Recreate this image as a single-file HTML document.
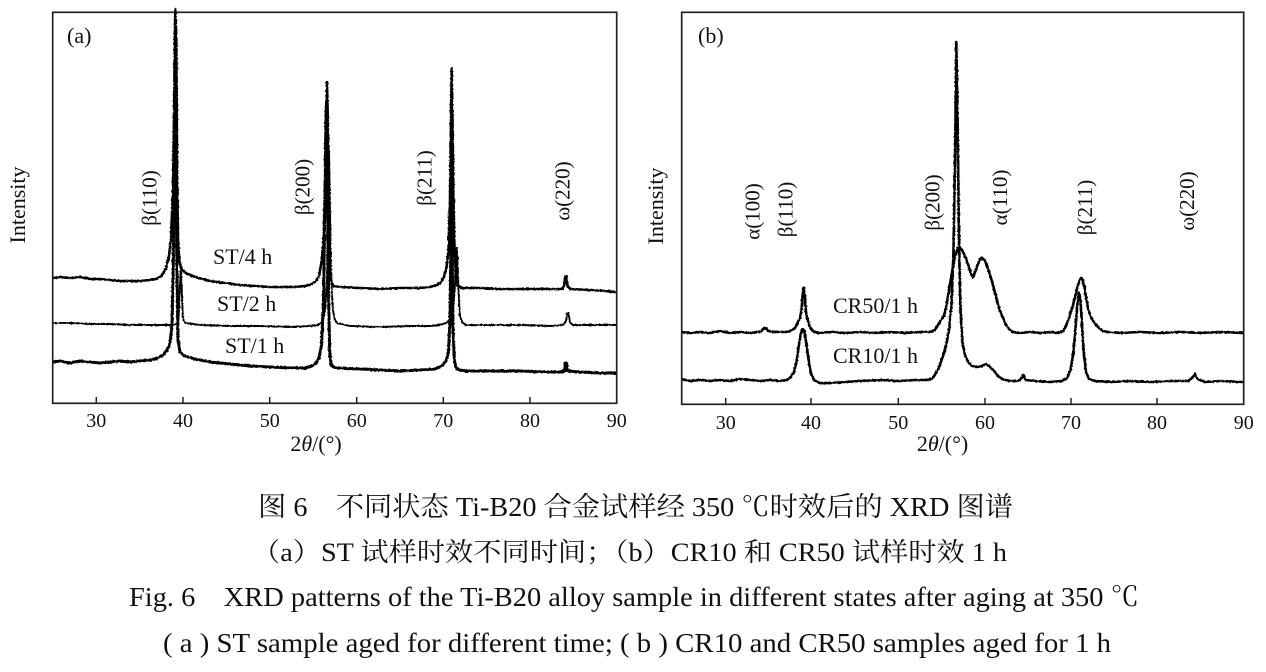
<!DOCTYPE html>
<html>
<head>
<meta charset="utf-8">
<style>
  html,body{margin:0;padding:0;background:#fff;}
  svg{display:block;}
  text{font-family:"Liberation Serif","Noto Serif CJK SC",serif;fill:#111;}
</style>
</head>
<body>
<svg width="1266" height="672" viewBox="0 0 1266 672" xmlns="http://www.w3.org/2000/svg">
  <defs>
    <filter id="nz" filterUnits="userSpaceOnUse" x="0" y="0" width="1266" height="672">
      <feTurbulence type="fractalNoise" baseFrequency="0.55" numOctaves="1" seed="3" result="t"/>
      <feDisplacementMap in="SourceGraphic" in2="t" scale="2.2" xChannelSelector="R" yChannelSelector="G"/>
    </filter>
  </defs>
  <rect width="1266" height="672" fill="#fff"/>

  <!-- ===== Panel (a) ===== -->
  <rect x="52.7" y="12.3" width="564" height="391" fill="none" stroke="#222" stroke-width="1.7"/>
  <g stroke="#222" stroke-width="1.5">
    <line x1="96.3" y1="397" x2="96.3" y2="403"/>
    <line x1="183" y1="397" x2="183" y2="403"/>
    <line x1="269.7" y1="397" x2="269.7" y2="403"/>
    <line x1="356.7" y1="397" x2="356.7" y2="403"/>
    <line x1="443.3" y1="397" x2="443.3" y2="403"/>
    <line x1="530" y1="397" x2="530" y2="403"/>
  </g>
  <g font-size="20" text-anchor="middle">
    <text x="96.3" y="427">30</text>
    <text x="183" y="427">40</text>
    <text x="269.7" y="427">50</text>
    <text x="356.7" y="427">60</text>
    <text x="443.3" y="427">70</text>
    <text x="530" y="427">80</text>
    <text x="616.7" y="427">90</text>
  </g>
  <text x="316" y="451" font-size="22" text-anchor="middle">2<tspan font-style="italic">θ</tspan>/(°)</text>

  <g fill="none" stroke="#000" stroke-linejoin="round" filter="url(#nz)">
    <!-- ST/4 h -->
    <path stroke-width="2.6" d="M53,278 L60,277 L70,278 L80,277 L90,279 L100,279 L110,280 L120,281 L130,281 L140,281 L150,280 L156,279 L160,277 L163,274 L166,268 L169,256 L171,238 L173,190 L174.3,100 L175.3,9 L176.3,40 L177.2,180 L178,240 L179.5,262 L182,270 L186,273 L195,277 L210,281 L225,283 L240,285 L255,286 L270,287 L285,287 L295,287 L305,286 L312,284 L316,281 L319,276 L321.5,262 L323.5,240 L325,190 L326.2,120 L327,82 L327.8,120 L328.8,200 L329.8,260 L331,280 L333,286 L340,287 L360,288 L380,289 L400,288 L420,288 L430,287 L437,285 L441,282 L444,277 L446.5,268 L448.5,250 L450,200 L451,120 L451.7,69 L452.5,120 L453.5,200 L454.5,250 L456,275 L457.5,285 L462,288 L480,288 L500,289 L520,289 L540,289 L555,289 L562,289 L564,286 L565.5,276 L566.5,276 L567.5,286 L570,289 L590,290 L605,291 L616,292"/>
    <!-- ST/2 h -->
    <path stroke-width="1.9" d="M53,323 L70,323 L90,324 L110,324 L130,325 L150,325 L165,325 L172,325 L176,324 L178.5,320 L179.8,290 L180.8,268 L181.8,290 L182.8,318 L185,323 L200,325 L230,326 L260,326 L290,327 L310,326 L318,325 L322,322 L325,312 L327,280 L328.3,200 L329,150 L329.8,200 L331,270 L332.5,305 L334,318 L337,323 L350,326 L380,327 L410,326 L430,326 L440,325 L446,323 L450,320 L453,311 L455,285 L456.2,250 L456.8,248 L457.6,260 L458.5,290 L459.8,315 L462,322 L466,325 L490,325 L520,325 L550,326 L563,325 L566,321 L567.3,313 L568.5,313 L569.8,322 L573,325 L600,325 L616,325"/>
    <!-- ST/1 h -->
    <path stroke-width="3" d="M53,362 L60,361 L70,363 L80,361 L90,362 L100,363 L110,362 L120,361 L130,362 L140,361 L150,360 L158,358 L163,355 L167,350 L170,343 L172,325 L173.5,250 L174.5,120 L175.2,30 L176,120 L177,270 L178,340 L180,352 L185,356 L195,359 L210,362 L230,364 L250,366 L270,367 L290,368 L305,368 L312,366 L316,363 L319,358 L321.5,345 L323.5,300 L325,200 L326,110 L326.8,100 L327.6,180 L328.6,300 L329.8,355 L331.5,366 L336,368 L360,369 L380,370 L400,371 L420,370 L435,369 L442,366 L446,361 L448.5,352 L450,320 L451,230 L451.5,160 L452,230 L453,330 L454.5,362 L456.5,369 L465,371 L490,371 L520,371 L545,372 L560,372 L564.5,371 L565.5,363 L566.5,363 L567.5,371 L580,372 L600,373 L616,373"/>
  </g>

  <text x="67" y="43" font-size="22">(a)</text>
  <text transform="translate(25,205) rotate(-90)" font-size="22" text-anchor="middle">Intensity</text>
  <g font-size="21" text-anchor="middle">
    <text transform="translate(156.5,198) rotate(-90)">β(110)</text>
    <text transform="translate(309.5,187) rotate(-90)">β(200)</text>
    <text transform="translate(431.5,178) rotate(-90)">β(211)</text>
    <text transform="translate(569.5,191) rotate(-90)">ω(220)</text>
  </g>
  <g font-size="22">
    <text x="213" y="264">ST/4 h</text>
    <text x="217" y="311">ST/2 h</text>
    <text x="225" y="353">ST/1 h</text>
  </g>

  <!-- ===== Panel (b) ===== -->
  <rect x="681.7" y="12.3" width="562" height="392" fill="none" stroke="#222" stroke-width="1.7"/>
  <g stroke="#222" stroke-width="1.5">
    <line x1="725.7" y1="398" x2="725.7" y2="404"/>
    <line x1="811" y1="398" x2="811" y2="404"/>
    <line x1="898.3" y1="398" x2="898.3" y2="404"/>
    <line x1="985" y1="398" x2="985" y2="404"/>
    <line x1="1071" y1="398" x2="1071" y2="404"/>
    <line x1="1157" y1="398" x2="1157" y2="404"/>
  </g>
  <g font-size="20" text-anchor="middle">
    <text x="725.7" y="429">30</text>
    <text x="811" y="429">40</text>
    <text x="898.3" y="429">50</text>
    <text x="985" y="429">60</text>
    <text x="1071" y="429">70</text>
    <text x="1157" y="429">80</text>
    <text x="1243.7" y="429">90</text>
  </g>
  <text x="942.5" y="451" font-size="22" text-anchor="middle">2<tspan font-style="italic">θ</tspan>/(°)</text>

  <g fill="none" stroke="#000" stroke-linejoin="round" filter="url(#nz)">
    <!-- CR50/1 h -->
    <path stroke-width="2.6" d="M682,332 L690,333 L700,332 L710,333 L720,331 L730,333 L740,332 L750,333 L758,332 L762,331 L764,328 L766,328 L768,331 L775,332 L785,332 L791,331 L795,328 L798,322 L800,318 L801.5,310 L802.5,296 L803.7,288 L804.8,296 L806,312 L808,321 L810,327 L813,331 L818,333 L830,332 L845,333 L860,332 L875,333 L890,332 L905,333 L920,332 L930,332 L935,330 L938,325 L941,320 L944,316 L946.5,305 L949,290 L952,272 L955,256 L957.5,249 L959.3,247 L962,250 L964,254 L966,258 L968.5,266 L971,274 L973,277 L975.5,271 L978,264 L980,259 L982,258 L984.5,260 L987.5,267 L990,275 L992.5,283 L995,293 L997.5,303 L1000,311 L1003,318 L1006,325 L1009,329 L1013,332 L1020,333 L1030,332 L1040,333 L1050,332 L1058,333 L1063,331 L1066,326 L1069,318 L1072.5,307 L1075,297 L1077.5,287 L1079.5,280 L1081,278 L1082.5,280 L1084.3,287 L1086,297 L1088,308 L1090,315 L1092.5,320 L1096,325 L1099,328 L1103,331 L1108,332 L1120,333 L1140,332 L1160,333 L1180,332 L1200,333 L1220,332 L1243,333"/>
    <!-- CR10/1 h -->
    <path stroke-width="2.6" d="M682,379 L690,381 L700,380 L710,381 L720,380 L730,381 L740,379 L750,380 L760,381 L770,380 L780,381 L787,380 L791,377 L794,372 L796.5,362 L798.5,348 L800.5,335 L802.5,329 L804,330 L805.5,338 L807.5,352 L809.5,366 L811.5,375 L814,380 L820,383 L830,383 L845,382 L860,381 L880,380 L900,381 L915,380 L928,380 L933,378 L937,371 L940,365 L943,356 L946,346 L949,330 L951.5,305 L953.5,250 L955,160 L956.3,42 L957.6,120 L959,240 L960.5,310 L962.5,343 L965,355 L968,362 L972,366 L977,367 L982,366 L986,364 L990,367 L994,371 L998,376 L1002,379 L1010,381 L1018,381 L1021,379 L1023.5,375 L1025.5,380 L1035,381 L1050,382 L1062,381 L1067,378 L1070.5,370 L1073,355 L1075,335 L1077,308 L1078.8,293 L1080.5,300 L1082,325 L1084,355 L1086,372 L1089,379 L1095,381 L1110,382 L1130,381 L1150,382 L1170,381 L1188,381 L1192,378 L1194.8,374 L1197.5,379 L1205,382 L1220,381 L1243,382"/>
  </g>

  <text x="698" y="43" font-size="22">(b)</text>
  <text transform="translate(663,206) rotate(-90)" font-size="22" text-anchor="middle">Intensity</text>
  <g font-size="21" text-anchor="middle">
    <text transform="translate(759.5,211.5) rotate(-90)">α(100)</text>
    <text transform="translate(792.5,209.5) rotate(-90)">β(110)</text>
    <text transform="translate(939.5,202.5) rotate(-90)">β(200)</text>
    <text transform="translate(1007,197.5) rotate(-90)">α(110)</text>
    <text transform="translate(1092,207.5) rotate(-90)">β(211)</text>
    <text transform="translate(1193.8,201) rotate(-90)">ω(220)</text>
  </g>
  <g font-size="22">
    <text x="833" y="313">CR50/1 h</text>
    <text x="833" y="363">CR10/1 h</text>
  </g>

  <!-- ===== Captions ===== -->
  <text x="258" y="516" font-size="27" textLength="755" lengthAdjust="spacingAndGlyphs">图 6　不同状态 Ti-B20 合金试样经 350 ℃时效后的 XRD 图谱</text>
  <text x="252" y="561" font-size="26" textLength="755" lengthAdjust="spacingAndGlyphs">（a）ST 试样时效不同时间；（b）CR10 和 CR50 试样时效 1 h</text>
  <text x="129" y="606" font-size="27" textLength="1010" lengthAdjust="spacingAndGlyphs">Fig. 6　XRD patterns of the Ti-B20 alloy sample in different states after aging at 350 ℃</text>
  <text x="163" y="652" font-size="27" textLength="948" lengthAdjust="spacingAndGlyphs">( a ) ST sample aged for different time;  ( b ) CR10 and CR50 samples aged for 1 h</text>
</svg>
</body>
</html>
